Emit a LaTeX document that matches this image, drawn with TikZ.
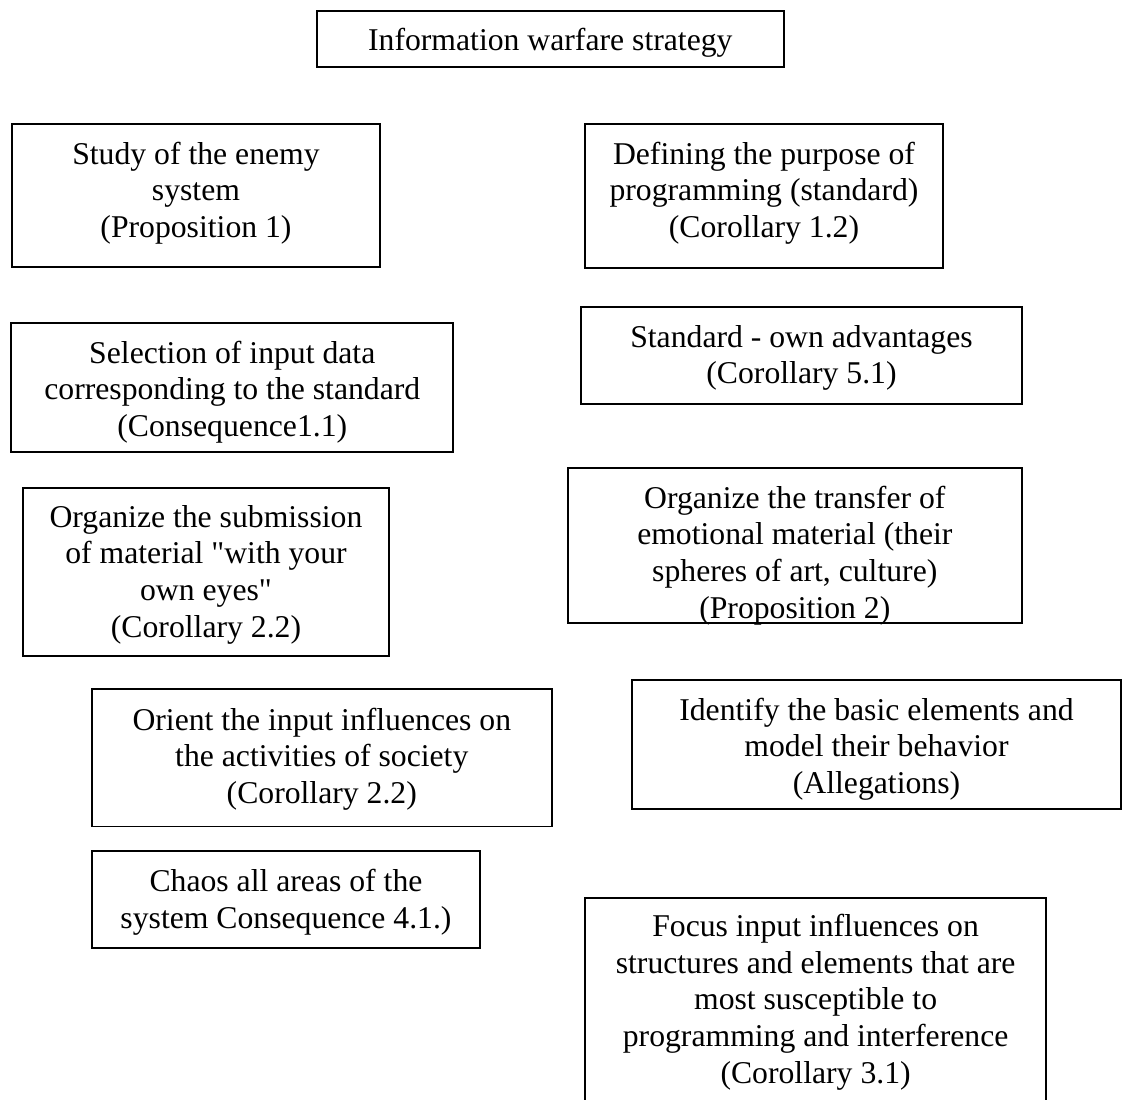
\documentclass[tikz,border=0pt]{standalone}
\usepackage{fontspec}
\setmainfont{Liberation Serif}[Ligatures=TeXOff]
\usetikzlibrary{fit}
\begin{document}
\begin{tikzpicture}[x=1pt,y=-1pt,
  box/.style={draw=black, line width=1.7pt, inner sep=0pt, outer sep=0pt, rectangle},
  lbl/.style={inner sep=0pt, outer sep=0pt, anchor=base, font=\fontsize{31.7}{36.6}\selectfont}]
\clip (0,0) rectangle (1122,1100);
\useasboundingbox (0,0) rectangle (1122,1100);
\renewcommand{\arraystretch}{1}
% boxes
\node[box, fit={(316.7,10.7)(784,67.3)}] (info) {};
\node[box, fit={(12,124)(380,267.3)}] (study) {};
\node[box, fit={(585.3,124)(942.7,268)}] (defin) {};
\node[box, fit={(11.3,322.7)(453.3,452.3)}] (select) {};
\node[box, fit={(581.3,306.7)(1021.7,404.3)}] (standard) {};
\node[box, fit={(22.7,487.7)(389.3,655.7)}] (submit) {};
\node[box, fit={(568,468.3)(1021.7,623.3)}] (transfer) {};
\node[box, fit={(92,689)(551.7,826.5)}] (orient) {};
\node[box, fit={(632,680)(1121,809)}] (identify) {};
\node[box, fit={(92,851)(480,948)}] (chaos) {};
\node[box, fit={(585.3,897.7)(1046,1120)}] (focus) {};
% texts
\node[lbl] (infot) at (550.3,50.5) {\begin{tabular}[t]{@{}c@{}}Information warfare strategy\end{tabular}};
\node[lbl] (studyt) at (196,164.3) {\begin{tabular}[t]{@{}c@{}}Study of the enemy\\system\\(Proposition 1)\end{tabular}};
\node[lbl] (defint) at (764,164.3) {\begin{tabular}[t]{@{}c@{}}Defining the purpose of\\programming (standard)\\(Corollary 1.2)\end{tabular}};
\node[lbl] (selectt) at (232.3,363.3) {\begin{tabular}[t]{@{}c@{}}Selection of input data\\corresponding to the standard\\(Consequence1.1)\end{tabular}};
\node[lbl] (standardt) at (801.5,347.3) {\begin{tabular}[t]{@{}c@{}}Standard - own advantages\\(Corollary 5.1)\end{tabular}};
\node[lbl] (submitt) at (206,527.3) {\begin{tabular}[t]{@{}c@{}}Organize the submission\\of material "with your\\own eyes"\\(Corollary 2.2)\end{tabular}};
\node[lbl] (transfert) at (794.8,508.3) {\begin{tabular}[t]{@{}c@{}}Organize the transfer of\\emotional material (their\\spheres of art, culture)\\(Proposition 2)\end{tabular}};
\node[lbl] (orientt) at (321.8,730) {\begin{tabular}[t]{@{}c@{}}Orient the input influences on\\the activities of society\\(Corollary 2.2)\end{tabular}};
\node[lbl] (identifyt) at (876.5,720) {\begin{tabular}[t]{@{}c@{}}Identify the basic elements and\\model their behavior\\(Allegations)\end{tabular}};
\node[lbl] (chaost) at (286,891.7) {\begin{tabular}[t]{@{}c@{}}Chaos all areas of the\\system Consequence 4.1.)\end{tabular}};
\node[lbl] (focust) at (815.6,936.7) {\begin{tabular}[t]{@{}c@{}}Focus input influences on\\structures and elements that are\\most susceptible to\\programming and interference\\(Corollary 3.1)\end{tabular}};
\end{tikzpicture}
\end{document}
